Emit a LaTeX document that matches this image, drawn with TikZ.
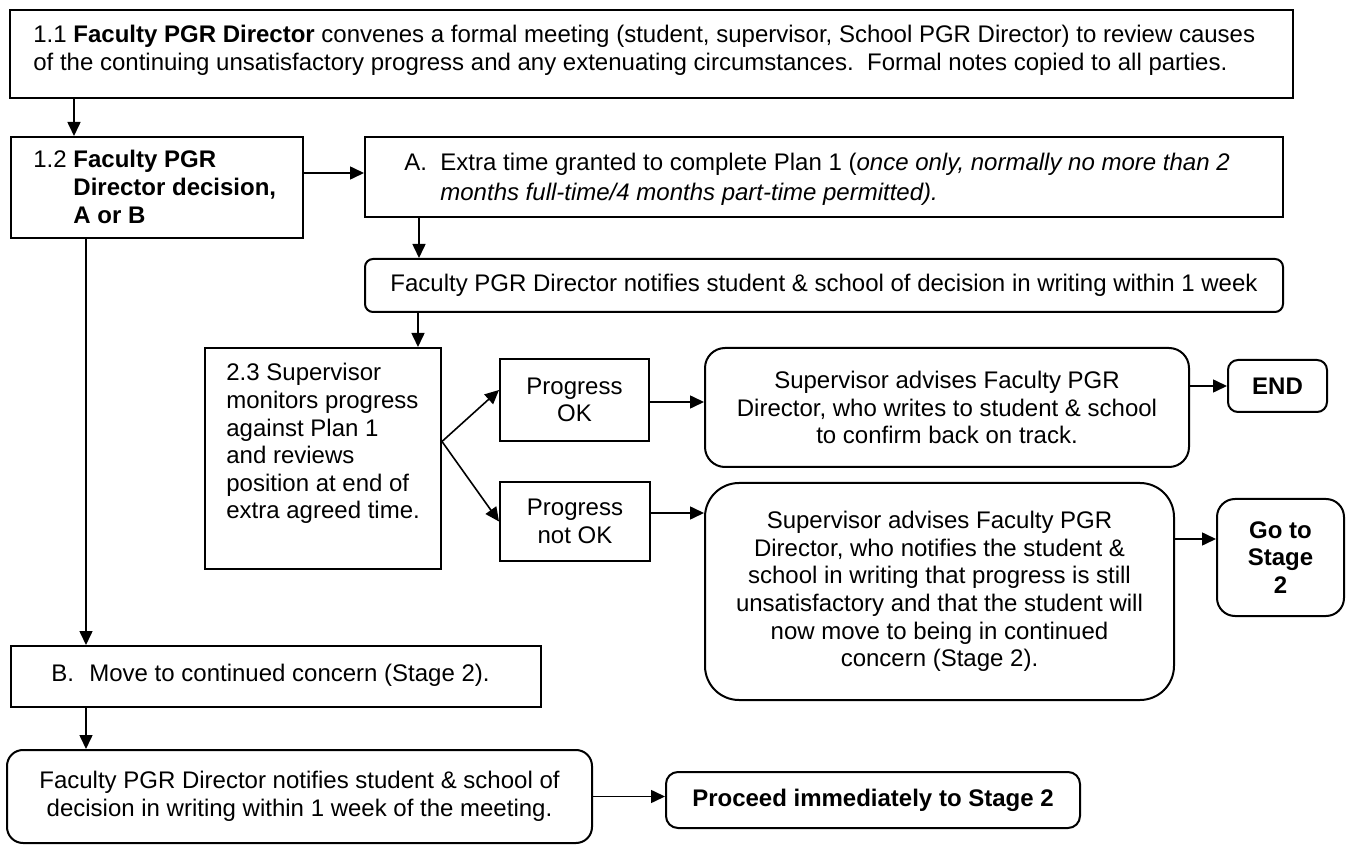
\documentclass[tikz,border=0pt]{standalone}
\usepackage{fontspec}
\setmainfont{Liberation Sans}
\usetikzlibrary{arrows.meta,calc}
\begin{document}
\begin{tikzpicture}[x=0.5pt,y=-0.5pt,
  box/.style={draw,line width=1pt,inner sep=0pt,align=center,font=\fontsize{12}{13.8}\selectfont},
  rbox/.style={box,rounded corners=#1},
  txt/.style={inner sep=0pt,anchor=base west,font=\fontsize{12}{13.8}\selectfont},
  arr/.style={line width=0.8pt,-{Triangle[length=7pt,width=6.5pt]}},
]
\useasboundingbox[fill=white] (0,0) rectangle (1351,845);

% boxes
\node[box,minimum width=641.5pt,minimum height=44pt] (b11) at (651.5,54) {};
\node[txt] (t11) at (33,43) {\begin{tabular}[t]{@{}l@{}}1.1 \textbf{Faculty PGR Director} convenes a formal meeting (student, supervisor, School PGR Director) to review causes\\of the continuing unsatisfactory progress and any extenuating circumstances.\ \ Formal notes copied to all parties.\end{tabular}};

\node[box,minimum width=146pt,minimum height=50.5pt] (b12) at (157,187.5) {};
\node[txt] (t12) at (33,168) {\begin{tabular}[t]{@{}l@{ }l@{}}1.2&\textbf{Faculty PGR}\\&\textbf{Director decision,}\\&\textbf{A or B}\end{tabular}};

\node[box,minimum width=459pt,minimum height=40pt] (bA) at (824,177) {};
\node[txt,font=\fontsize{12}{15}\selectfont] (tA) at (404,171) {\begin{tabular}[t]{@{}p{18pt}@{}l@{}}A.&Extra time granted to complete Plan 1 (\textit{once only, normally no more than 2}\\&\textit{months full-time/4 months part-time permitted).}\end{tabular}};

\node[rbox=4pt,minimum width=459pt,minimum height=26.5pt] (bN) at (824,285.5) {Faculty PGR Director notifies student \& school of decision in writing within 1 week};

\node[box,minimum width=118pt,minimum height=110.5pt] (b23) at (323,458.5) {};
\node[txt] (t23) at (226,381) {\begin{tabular}[t]{@{}l@{}}2.3 Supervisor\\monitors progress\\against Plan 1\\and reviews\\position at end of\\extra agreed time.\end{tabular}};

\node[box,minimum width=74.5pt,minimum height=41pt] (bOK) at (574.5,400) {Progress\\OK};
\node[box,minimum width=75pt,minimum height=39.5pt] (bNOK) at (575,521.5) {Progress\\not OK};

\node[rbox=10pt,minimum width=242pt,minimum height=59.5pt] (bOKA) at (947,407.5) {Supervisor advises Faculty PGR\\Director, who writes to student \& school\\to confirm back on track.};
\node[rbox=5pt,minimum width=49.5pt,minimum height=26pt,font=\fontsize{12}{13.8}\selectfont\bfseries] (bEND) at (1277.5,386) {END};

\node[rbox=17pt,minimum width=234.5pt,minimum height=108.5pt] (bNOKA) at (939.5,591.5) {Supervisor advises Faculty PGR\\Director, who notifies the student \&\\school in writing that progress is still\\unsatisfactory and that the student will\\now move to being in continued\\concern (Stage 2).};
\node[rbox=9pt,minimum width=63.5pt,minimum height=58.5pt,font=\fontsize{12}{13.8}\selectfont\bfseries] (bGO) at (1280.5,557.5) {Go to\\Stage\\2};

\node[box,minimum width=265pt,minimum height=30.5pt] (bB) at (276,676.5) {};
\node[txt] (tB) at (51,681) {\begin{tabular}[t]{@{}p{19pt}@{}l@{}}B.&Move to continued concern (Stage 2).\end{tabular}};

\node[rbox=8pt,minimum width=292.5pt,minimum height=46.5pt] (bBN) at (299.5,796.5) {Faculty PGR Director notifies student \& school of\\decision in writing within 1 week of the meeting.};
\node[rbox=6pt,minimum width=207pt,minimum height=28pt,font=\fontsize{12}{13.8}\selectfont\bfseries] (bP) at (873,800) {Proceed immediately to Stage 2};

% connectors
\coordinate (p1) at ($(b12.north west)+(64,0)$);
\draw[arr] (b11.south -| p1) -- (p1);
\coordinate (q) at ($(bA.west)+(0,-4)$);
\draw[arr] (b12.east |- q) -- (q);
\coordinate (r) at ($(bN.north west)+(55,0)$);
\draw[arr] (bA.south -| r) -- (r);
\coordinate (s) at ($(b23.north west)+(214,0)$);
\draw[arr] (bN.south -| s) -- (s);
\coordinate (br) at ($(b23.east)+(0,-17)$);
\coordinate (okin) at ($(bOK.west)+(0,-10)$);
\draw[arr] (br) -- (okin);
\draw[arr] (br) -- (bNOK.west);
\coordinate (t) at ($(bOK.east)+(0,2)$);
\draw[arr] (t) -- (bOKA.west |- t);
\draw[arr] (bOKA.east |- bEND.west) -- (bEND.west);
\coordinate (u) at ($(bNOK.east)+(0,-8.5)$);
\draw[arr] (u) -- (bNOKA.west |- u);
\coordinate (v) at ($(bGO.west)+(0,-18.5)$);
\draw[arr] (bNOKA.east |- v) -- (v);
\coordinate (w) at ($(bB.north west)+(76,0)$);
\draw[arr] (b12.south -| w) -- (w);
\draw[arr] (bB.south -| w) -- (bBN.north -| w);
\draw[arr] (bBN.east) -- (bP.west |- bBN.east);
\end{tikzpicture}
\end{document}
